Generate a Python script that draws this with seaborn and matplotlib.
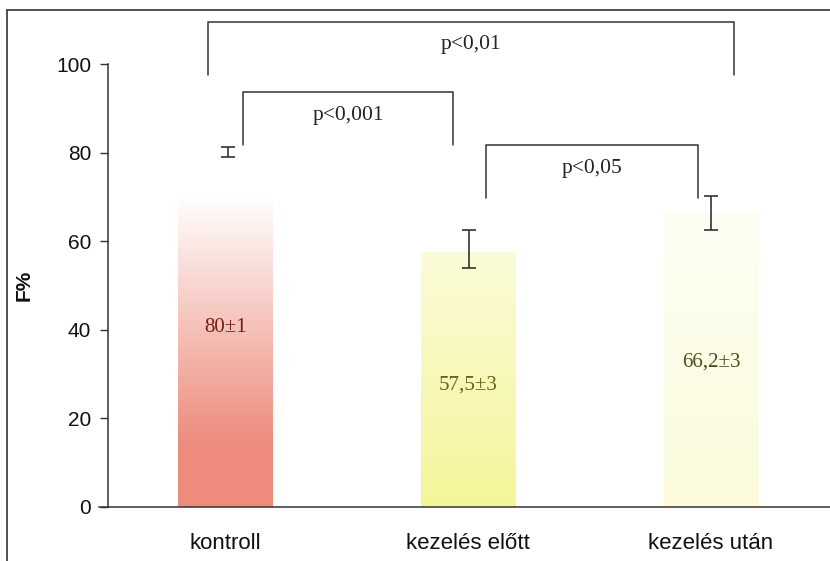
import numpy as np
import pandas as pd
import matplotlib
matplotlib.use("Agg")
import matplotlib.pyplot as plt
from matplotlib.lines import Line2D
import seaborn as sns

categories = ["kontroll", "kezelés előtt", "kezelés után"]
values = [80.0, 57.5, 66.2]
err_low = [1.0, 3.5, 3.7]
err_high = [1.3, 5.0, 4.0]
bar_labels = ["80±1", "57,5±3", "66,2±3"]
bar_label_y = [40.6, 27.5, 32.7]
yticks = [0, 20, 40, 60, 80, 100]
comparisons = [(0, 2, "p<0,01"), (0, 1, "p<0,001"), (1, 2, "p<0,05")]

sns.set_theme(style="white")
plt.rcParams["font.family"] = ["Liberation Sans", "DejaVu Sans"]

fig = plt.figure(figsize=(8.3, 5.61), dpi=100)
ax = fig.add_axes([108 / 830, 1 - 507 / 561, 1 - 108 / 830, (507 - 64) / 561])

df = pd.DataFrame({"cat": categories, "val": values})
sns.barplot(data=df, x="cat", y="val", ax=ax, width=0.39, color="white",
            errorbar=None, saturation=1)

base_cols = [(0.93, 0.55, 0.49), (0.96, 0.96, 0.60), (0.985, 0.985, 0.86)]
fade = [(0.18, 0.88), (0.0, 1.6), (0.0, 1.4)]
for patch, col, (f0, f1) in zip(ax.patches, base_cols, fade):
    x0, y0 = patch.get_x(), patch.get_y()
    w, h = patch.get_width(), patch.get_height()
    n = 256
    f = np.linspace(0, 1, n)
    t = np.clip((f - f0) / (f1 - f0), 0, 1)
    img = np.zeros((n, 1, 3))
    for c in range(3):
        img[:, 0, c] = col[c] * (1 - t) + 1.0 * t
    im = ax.imshow(img, extent=[x0, x0 + w, y0, y0 + h], origin="lower",
                   aspect="auto", zorder=1, interpolation="bilinear")
    im.set_clip_path(patch)
    patch.set_facecolor("none")
    patch.set_edgecolor("none")

xs = np.arange(len(categories))
ax.errorbar(xs + np.array([0.012, 0.004, 0.0]), values,
            yerr=[err_low, err_high], fmt="none", ecolor="#333333",
            elinewidth=1.2, capsize=5, capthick=1.2, zorder=3)

label_cols = ["#7a1c14", "#6b6014", "#4f4a18"]
for i, (lab, ly) in enumerate(zip(bar_labels, bar_label_y)):
    ax.text(xs[i], ly, lab, ha="center", va="center", fontsize=15,
            family="Liberation Serif", color=label_cols[i], zorder=4)

# significance brackets
geom = {
    (0, 2): (-0.07, 2.095, 109.5, 97.5, 97.5, 104.3),
    (0, 1): (0.074, 0.94, 93.7, 81.7, 81.7, 88.4),
    (1, 2): (1.074, 1.946, 81.7, 69.8, 69.8, 76.5),
}
for a, b, txt in comparisons:
    xl, xr, ytop, yl, yr, ty = geom[(a, b)]
    ax.plot([xl, xl, xr, xr], [yl, ytop, ytop, yr], color="#333333",
            lw=1.1, clip_on=False, zorder=3)
    ax.text((xl + xr) / 2, ty, txt, ha="center", va="center", fontsize=15.5,
            family="Liberation Serif", color="#222222", clip_on=False)

ax.set_xlim(-0.482, 2.49)
ax.set_ylim(0, 100)
ax.set_yticks(yticks)
ax.set_yticklabels([str(v) for v in yticks], fontsize=15, color="#111111")
ax.tick_params(axis="y", direction="out", length=6, width=1, color="#333333",
               left=True, pad=6)
ax.tick_params(axis="x", length=0, pad=19, labelsize=16, labelcolor="#111111")
ax.set_xlabel("")
ax.set_ylabel("F%", fontsize=15, fontweight="bold", color="#111111")
ax.yaxis.set_label_coords((34 - 108) / 722, 0.5)
for s in ["top", "right"]:
    ax.spines[s].set_visible(False)
for s in ["left", "bottom"]:
    ax.spines[s].set_color("#333333")
    ax.spines[s].set_linewidth(1.1)
ax.spines["bottom"].set_bounds(-0.52, 2.49)
ax.set_facecolor("white")

# outer frame lines
fig.add_artist(Line2D([7 / 830, 1.0], [1 - 10 / 561, 1 - 10 / 561],
                      color="#333333", lw=1.2))
fig.add_artist(Line2D([7 / 830, 7 / 830], [0, 1 - 10 / 561],
                      color="#333333", lw=1.2))

fig.savefig("out.png", dpi=100)
